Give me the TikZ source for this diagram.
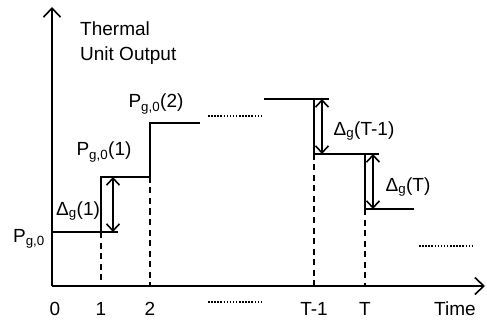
\documentclass[tikz,border=0pt]{standalone}
\usepackage{fontspec}
\setmainfont{Liberation Sans}
\usetikzlibrary{arrows.meta}
\begin{document}
\begin{tikzpicture}[
            x=1pt, y=-1pt,
            axis/.style={line width=1.6pt, -{Straight Barb[length=9pt,width=17pt,line width=1.6pt]}},
            level/.style={line width=1.6pt},
            guide/.style={line width=1.6pt, dash pattern=on 6pt off 4.5pt},
            gap/.style={line width=1.3pt, dash pattern=on 1.5pt off 1.6pt},
            delta/.style={line width=1.6pt, {Straight Barb[length=7pt,width=13pt,line width=1.6pt]}-{Straight Barb[length=7pt,width=13pt,line width=1.6pt]}},
            every node/.style={align=left, inner sep=0pt, font=\fontsize{19}{25}\selectfont}
    ]
        \useasboundingbox (0,0) rectangle (487,323);

        % Axes
        \coordinate (origin) at (52,286);
        \coordinate (ytop) at (52,7);
        \coordinate (xend) at (485,286);
        \draw[axis] (origin) -- (ytop);
        \draw[axis] (origin) -- (xend);

        % Step points
        \coordinate (p0_a) at (52,232);
        \coordinate (p0_b) at (118,232);
        \coordinate (p1_a) at (101,232);
        \coordinate (p1_b) at (101,177);
        \coordinate (p2_a) at (150,177);
        \coordinate (p2_b) at (150,123);
        \coordinate (p2_c) at (200,123);
        \coordinate (pT2_a) at (264,99);
        \coordinate (pT2_b) at (329,99);
        \coordinate (pT1_a) at (314,99);
        \coordinate (pT1_b) at (314,154);
        \coordinate (pT1_c) at (379,154);
        \coordinate (pT_a) at (365,154);
        \coordinate (pT_b) at (365,209);
        \coordinate (pT_c) at (414,209);

        % Axis ticks
        \coordinate (x1) at (101,286);
        \coordinate (x2) at (150,286);
        \coordinate (xT1) at (314,286);
        \coordinate (xT) at (365,286);

        % Output levels
        \draw[level] (p0_a) -- (p0_b);
        \draw[level] (p1_a) -- (p1_b) -- (p2_a) -- (p2_b) -- (p2_c);
        \draw[level] (pT2_a) -- (pT2_b);
        \draw[level] (pT1_a) -- (pT1_b) -- (pT1_c);
        \draw[level] (pT_a) -- (pT_b) -- (pT_c);

        % Dashed guides
        \draw[guide] (p1_a) -- (x1);
        \draw[guide] (p2_a) -- (x2);
        \draw[guide] (pT1_b) -- (xT1);
        \draw[guide] (pT_b) -- (xT);

        % Ramps
        \coordinate (d1_top) at (113,177);
        \coordinate (d1_bot) at (113,232);
        \coordinate (dT1_top) at (322,99);
        \coordinate (dT1_bot) at (322,154);
        \coordinate (dT_top) at (373,154);
        \coordinate (dT_bot) at (373,209);
        \draw[delta] (d1_top) -- (d1_bot);
        \draw[delta] (dT1_top) -- (dT1_bot);
        \draw[delta] (dT_top) -- (dT_bot);

        % Gaps
        \coordinate (gap1_a) at (208,116);
        \coordinate (gap1_b) at (262,116);
        \coordinate (gap2_a) at (208,302);
        \coordinate (gap2_b) at (262,302);
        \coordinate (gap3_a) at (419,246);
        \coordinate (gap3_b) at (472,246);
        \draw[gap] (gap1_a) -- (gap1_b);
        \draw[gap] (gap2_a) -- (gap2_b);
        \draw[gap] (gap3_a) -- (gap3_b);

        % Labels
        \node[anchor=north west] (ylabel) at (80,22) {Thermal\\Unit Output};
        \node (lbl_p2) at (156,104) {P\textsubscript{g,0}(2)};
        \node (lbl_p1) at (104,152) {P\textsubscript{g,0}(1)};
        \node (lbl_d1) at (78,211) {Δ\textsubscript{g}(1)};
        \node (lbl_p0) at (29,239) {P\textsubscript{g,0}};
        \node (lbl_dT1) at (364,131) {Δ\textsubscript{g}(T-1)};
        \node (lbl_dT) at (408,187) {Δ\textsubscript{g}(T)};

        % Time axis labels
        \node (t0) at (55,309) {0};
        \node (t1) at (101,309) {1};
        \node (t2) at (150,309) {2};
        \node (tT1) at (314,309) {T-1};
        \node (tT) at (365,309) {T};
        \node (ttime) at (455,309) {Time};

    \end{tikzpicture}
\end{document}
